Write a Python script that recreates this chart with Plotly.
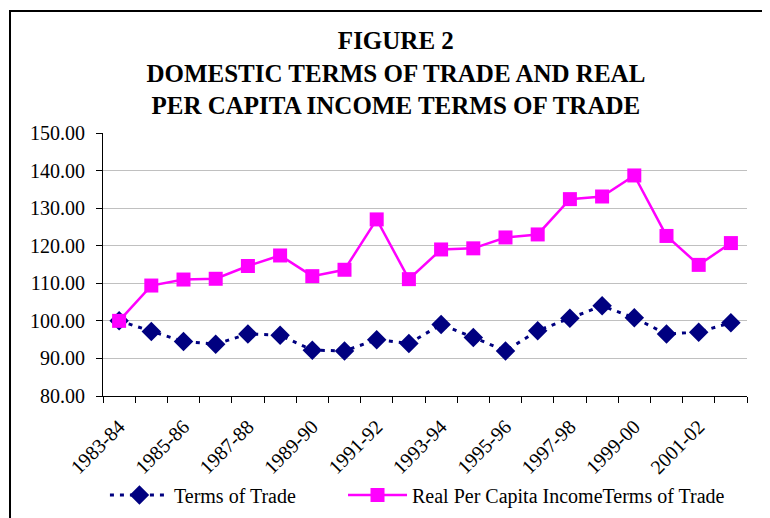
import plotly.graph_objects as go

categories = ["1983-84", "1984-85", "1985-86", "1986-87", "1987-88", "1988-89",
              "1989-90", "1990-91", "1991-92", "1992-93", "1993-94", "1994-95",
              "1995-96", "1996-97", "1997-98", "1998-99", "1999-00", "2000-01",
              "2001-02", "2002-03"]
terms_of_trade = [100.0, 97.2, 94.5, 93.8, 96.5, 96.2, 92.2, 92.0, 95.0, 94.0,
                  99.0, 95.6, 92.0, 97.4, 100.7, 104.0, 100.8, 96.5, 97.0, 99.5]
real_pc_income_tot = [100.0, 109.4, 111.0, 111.2, 114.6, 117.4, 111.9, 113.6, 127.0, 111.1,
                      119.0, 119.3, 122.2, 123.0, 132.4, 133.1, 138.7, 122.6, 114.9, 120.7]
y_ticks = [80, 90, 100, 110, 120, 130, 140, 150]
tick_text_x = [c if i % 2 == 0 else "" for i, c in enumerate(categories)]

FONT = "Liberation Serif, Times New Roman, serif"

fig = go.Figure()
fig.add_trace(go.Scatter(
    x=categories, y=terms_of_trade, name="Terms of Trade", mode="lines+markers",
    line=dict(color="#000080", width=3, dash="4px,6px"),
    marker=dict(symbol="diamond", size=15, color="#000080"),
    legend="legend",
))
fig.add_trace(go.Scatter(
    x=categories, y=real_pc_income_tot, name="Real Per Capita IncomeTerms of Trade",
    mode="lines+markers",
    line=dict(color="#FF00FF", width=2.5),
    marker=dict(symbol="square", size=14, color="#FF00FF"),
    legend="legend2",
))

legend_common = dict(
    orientation="h", xanchor="left", y=-0.376, yanchor="middle",
    font=dict(family=FONT, size=20), itemwidth=59, bgcolor="rgba(0,0,0,0)",
)

fig.update_layout(
    width=762, height=510,
    margin=dict(l=95, r=23, t=125, b=122, autoexpand=False),
    paper_bgcolor="white", plot_bgcolor="white",
    font=dict(family=FONT, size=20, color="black"),
    title=dict(
        text="FIGURE 2<br>DOMESTIC TERMS OF TRADE AND REAL<br>PER CAPITA INCOME TERMS OF TRADE",
        font=dict(family=FONT, size=25, color="black", weight="bold"),
        x=0.509, xanchor="center", xref="container",
        y=0.919, yanchor="top", yref="container",
    ),
    showlegend=True,
    legend=dict(x=0.003, **legend_common),
    legend2=dict(x=0.3727, **legend_common),
    xaxis=dict(
        type="category", tickvals=categories, ticktext=tick_text_x,
        tickson="boundaries", ticks="outside", ticklen=6, tickcolor="black",
        tickangle=-45, showgrid=False, showline=True, linecolor="black", linewidth=1,
        tickfont=dict(family=FONT, size=20), ticklabelstandoff=10,
        range=[-0.5, len(categories) - 0.5], automargin=False,
    ),
    yaxis=dict(
        range=[80, 150], tickvals=y_ticks, ticktext=[f"{v:.2f}" for v in y_ticks],
        ticks="outside", ticklen=6, tickcolor="black",
        showgrid=True, gridcolor="#C0C0C0", gridwidth=1,
        showline=True, linecolor="black", linewidth=1, zeroline=False,
        tickfont=dict(family=FONT, size=20), ticklabelstandoff=7, automargin=False,
    ),
    shapes=[dict(type="rect", xref="paper", yref="paper",
                 x0=-0.1444, x1=1.05, y0=-0.5, y1=1.464,
                 line=dict(color="black", width=2), layer="below")],
)

fig.write_html("out.html")
